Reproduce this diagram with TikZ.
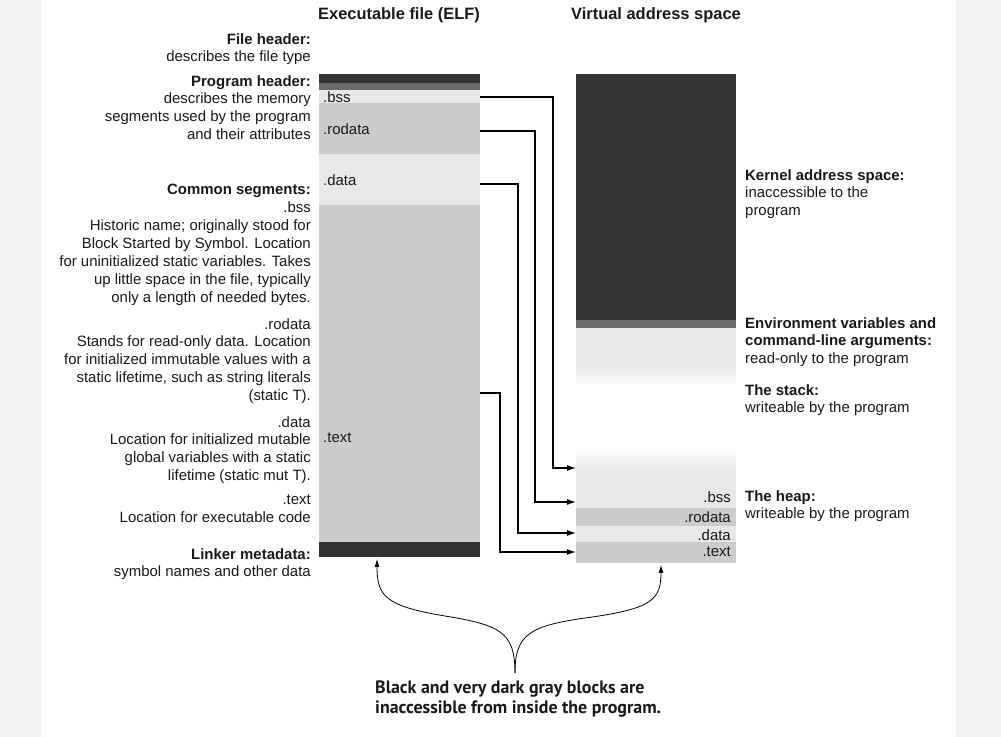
\documentclass[tikz,border=0pt]{standalone}
\usepackage{fontspec}
\setmainfont{Liberation Sans}
\newfontfamily\capfont{PT Sans}
\usetikzlibrary{arrows.meta, positioning, calc}
\definecolor{segDark}{HTML}{333333}
\definecolor{segMid}{HTML}{6B6B6B}
\definecolor{segLight}{HTML}{E8E8E8}
\definecolor{segGray}{HTML}{CDCCCB}
\definecolor{pageSide}{HTML}{F2F2F2}
\tikzset{
  lbl/.style={inner sep=0pt, font=\fontsize{15}{18}\selectfont, text=black!90},
  lblr/.style={lbl, anchor=north east, align=right},
  lbll/.style={lbl, anchor=north west, align=left},
  coltitle/.style={inner sep=0pt, font=\fontsize{16.5}{18}\selectfont\bfseries, text=black!90},
  conn/.style={line width=1.1pt, -{Latex[length=9pt,width=6pt]}},
  brace/.style={line width=0.8pt, -{Latex[length=8pt,width=5pt]}},
}

\begin{document}
\begin{tikzpicture}[x=1bp, y=-1bp]
  \useasboundingbox (0,0) rectangle (1001,737);
  \fill[pageSide] (0,0) rectangle (1001,737);
  \fill[white] (41,0) rectangle (956,737);

  % column titles
  \node[coltitle] (elftitle) at (399,15) {Executable file (ELF)};
  \node[coltitle] (vastitle) at (656,15) {Virtual address space};

  % the ELF file
  \foreach \ya/\yb/\fc in {74/83/segDark, 83/90/segMid, 90/103/segLight,
      103/154/segGray, 154/205/segLight, 205/542/segGray, 542/557/segDark}
    \fill[\fc] (319,\ya) rectangle (480,\yb);
  \node[lbl, anchor=west] (fbss)    at (323,97)  {.bss};
  \node[lbl, anchor=west] (frodata) at (323,129) {.rodata};
  \node[lbl, anchor=west] (fdata)   at (323,180) {.data};
  \node[lbl, anchor=west] (ftext)   at (323,438) {.text};

  % the virtual address space
  \fill[segDark] (576,74) rectangle (736,320);
  \fill[segMid] (576,320) rectangle (736,328);
  \fill[segLight] (576,328) rectangle (736,366);
  \shade[top color=segLight, bottom color=white] (576,366) rectangle (736,386);
  \shade[top color=white, bottom color=segLight] (576,446) rectangle (736,470);
  \foreach \ya/\yb/\fc in {470/508/segLight, 508/526/segGray,
      526/542/segLight, 542/563/segGray}
    \fill[\fc] (576,\ya) rectangle (736,\yb);
  \node[lbl, anchor=east] (vbss)    at (731,497) {.bss};
  \node[lbl, anchor=east] (vrodata) at (731,517) {.rodata};
  \node[lbl, anchor=east] (vdata)   at (731,535) {.data};
  \node[lbl, anchor=east] (vtext)   at (731,552) {.text};

  % segment mapping
  \coordinate (bssout)    at (480,97);
  \coordinate (rodataout) at (480,131);
  \coordinate (dataout)   at (480,184);
  \coordinate (textout)   at (480,393);
  \coordinate (heapin)    at (576,468);
  \coordinate (bssin)     at (576,502);
  \coordinate (datain)    at (576,533);
  \coordinate (textin)    at (576,552);
  \draw[conn] (bssout) -- ++(73,0) |- (heapin);
  \draw[conn] (rodataout) -- ++(55,0) |- (bssin);
  \draw[conn] (dataout) -- ++(38,0) |- (datain);
  \draw[conn] (textout) -- ++(20,0) |- (textin);

  % left descriptions
  \node[lblr] (fileh) at (311,33) {\textbf{File header:}\\describes the file type};
  \node[lblr] (progh) at (311,75) {\textbf{Program header:}\\describes the memory\\
    segments used by the program\\and their attributes};
  \node[lblr] (commseg) at (311,184) {\textbf{Common segments:}\\.bss\\
    Historic name; originally stood for\\Block Started by Symbol. Location\\
    for uninitialized static variables. Takes\\up little space in the file, typically\\
    only a length of needed bytes.};
  \node[lblr] (rodatadesc) at (311,318) {.rodata\\Stands for read-only data. Location\\
    for initialized immutable values with a\\static lifetime, such as string literals\\
    (static T).};
  \node[lblr] (datadesc) at (311,416) {.data\\Location for initialized mutable\\
    global variables with a static\\lifetime (static mut T).};
  \node[lblr] (textdesc) at (311,495) {.text\\Location for executable code};
  \node[lblr] (linker) at (311,548) {\textbf{Linker metadata:}\\symbol names and other data};

  % right descriptions
  \node[lbll] (kernel) at (745,169) {\textbf{Kernel address space:}\\inaccessible to the\\program};
  \node[lbll] (envargs) at (745,317) {\textbf{Environment variables and}\\
    \textbf{command-line arguments:}\\read-only to the program};
  \node[lbll] (stack) at (745,384) {\textbf{The stack:}\\writeable by the program};
  \node[lbll] (heap) at (745,490) {\textbf{The heap:}\\writeable by the program};

  % note at the bottom
  \coordinate (elfbot) at (377,559);
  \coordinate (vasbot) at (661,565);
  \coordinate (join) at (515,673);
  \draw[brace] (join) .. controls (515,632) and (500,625) .. (445,616)
    .. controls (385,606) and (377,596) .. (elfbot);
  \draw[brace] (join) .. controls (515,634) and (530,626) .. (585,618)
    .. controls (652,609) and (661,600) .. (vasbot);
  \node[inner sep=0pt, anchor=north west, align=left, text=black!90,
    font=\capfont\bfseries\fontsize{18}{20}\selectfont] (note) at (375,681)
    {Black and very dark gray blocks are\\inaccessible from inside the program.};
\end{tikzpicture}
\end{document}
